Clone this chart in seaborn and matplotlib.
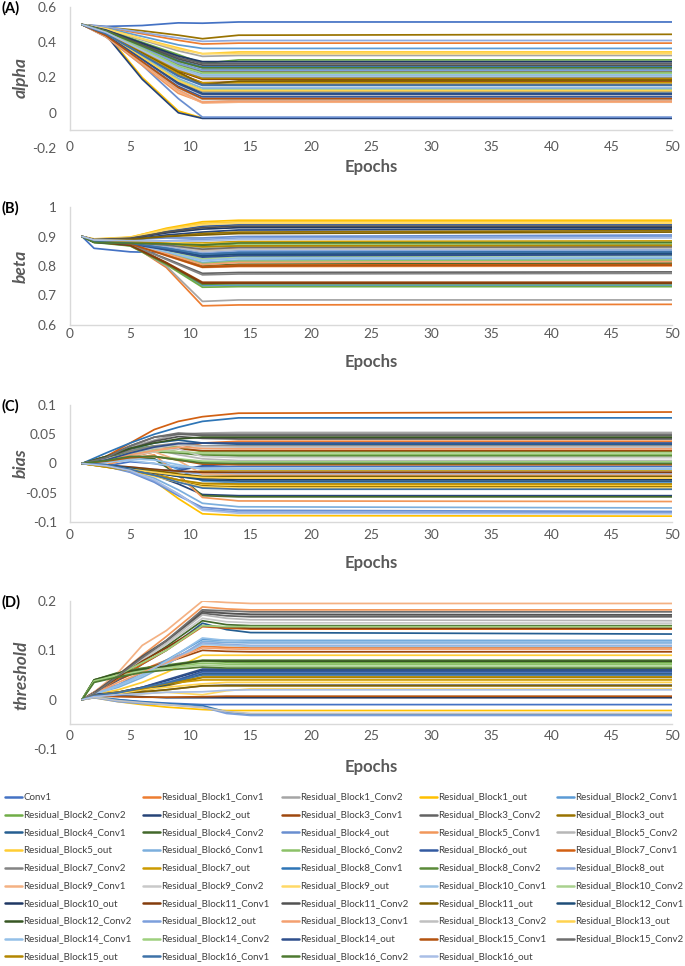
import matplotlib
matplotlib.use("Agg")
import matplotlib.pyplot as plt
import pandas as pd
import seaborn as sns
from matplotlib.lines import Line2D

# ---------------- data ----------------
SERIES = ["Conv1"] + [f"Residual_Block{b}_{p}" for b in range(1, 17)
                      for p in ("Conv1", "Conv2", "out")]

COLORS = ["#4472C4", "#ED7D31", "#A5A5A5", "#FFC000", "#5B9BD5", "#70AD47",
          "#264478", "#9E480E", "#636363", "#997300", "#255E91", "#43682B",
          "#698ED0", "#F1975A", "#B7B7B7", "#FFCD33", "#7CAFDD", "#8CC168",
          "#335AA1", "#D26012", "#848484", "#CC9A00", "#2E75B6", "#5A8A39",
          "#8FAADC", "#F4B183", "#C9C9C9", "#FFD966", "#9DC3E6", "#A9D18E",
          "#1F3864", "#843C0C", "#525252", "#7F6000", "#1F4E79", "#375623",
          "#7C9FDC", "#F4A070", "#C0C0C0", "#FFD34F", "#94C0E8", "#9ED07E",
          "#2F4F8C", "#B4530F", "#6F6F6F", "#B38600", "#3E72A8", "#4E7A31",
          "#A9BEE6"]

EPOCHS_ALPHA = [1, 3, 6, 9, 11, 14, 50]
ALPHA = [
    [0.5, 0.49, 0.495, 0.51, 0.508, 0.515, 0.515],
    [0.5, 0.484, 0.448, 0.411, 0.39, 0.395, 0.395],
    [0.5, 0.474, 0.413, 0.351, 0.32, 0.325, 0.325],
    [0.5, 0.45, 0.2, 0.01, -0.03, -0.03, -0.03],
    [0.5, 0.48, 0.433, 0.385, 0.365, 0.365, 0.365],
    [0.5, 0.47, 0.4, 0.33, 0.28, 0.3, 0.3],
    [0.5, 0.44, 0.19, 0.0, -0.032, -0.032, -0.032],
    [0.5, 0.451, 0.338, 0.224, 0.17, 0.175, 0.175],
    [0.5, 0.467, 0.39, 0.313, 0.28, 0.28, 0.28],
    [0.5, 0.485, 0.465, 0.44, 0.42, 0.44, 0.445],
    [0.5, 0.458, 0.36, 0.262, 0.22, 0.22, 0.22],
    [0.5, 0.462, 0.373, 0.283, 0.245, 0.245, 0.245],
    [0.5, 0.43, 0.27, 0.08, -0.025, -0.025, -0.025],
    [0.5, 0.43, 0.27, 0.11, 0.06, 0.07, 0.07],
    [0.5, 0.44, 0.3, 0.15, 0.095, 0.095, 0.095],
    [0.5, 0.477, 0.42, 0.368, 0.335, 0.345, 0.345],
    [0.5, 0.446, 0.32, 0.194, 0.14, 0.14, 0.14],
    [0.5, 0.456, 0.355, 0.253, 0.21, 0.21, 0.21],
    [0.5, 0.44, 0.295, 0.15, 0.09, 0.09, 0.09],
    [0.5, 0.46, 0.368, 0.275, 0.235, 0.235, 0.235],
    [0.5, 0.443, 0.31, 0.177, 0.12, 0.12, 0.12],
    [0.5, 0.45, 0.335, 0.22, 0.17, 0.17, 0.17],
    [0.5, 0.464, 0.38, 0.296, 0.26, 0.26, 0.26],
    [0.5, 0.46, 0.365, 0.27, 0.23, 0.23, 0.23],
    [0.5, 0.487, 0.455, 0.424, 0.405, 0.41, 0.41],
    [0.5, 0.434, 0.28, 0.12, 0.055, 0.06, 0.06],
    [0.5, 0.44, 0.3, 0.16, 0.1, 0.1, 0.1],
    [0.5, 0.475, 0.418, 0.36, 0.335, 0.335, 0.335],
    [0.5, 0.463, 0.375, 0.288, 0.25, 0.25, 0.25],
    [0.5, 0.445, 0.315, 0.186, 0.13, 0.13, 0.13],
    [0.5, 0.469, 0.395, 0.322, 0.29, 0.29, 0.29],
    [0.5, 0.454, 0.345, 0.237, 0.19, 0.19, 0.19],
    [0.5, 0.466, 0.385, 0.305, 0.27, 0.27, 0.27],
    [0.5, 0.453, 0.343, 0.232, 0.16, 0.18, 0.185],
    [0.5, 0.442, 0.305, 0.169, 0.11, 0.11, 0.11],
    [0.5, 0.455, 0.35, 0.245, 0.2, 0.2, 0.2],
    [0.5, 0.461, 0.37, 0.279, 0.24, 0.24, 0.24],
    [0.5, 0.435, 0.283, 0.13, 0.06, 0.065, 0.065],
    [0.5, 0.436, 0.288, 0.139, 0.075, 0.075, 0.075],
    [0.5, 0.444, 0.313, 0.181, 0.125, 0.125, 0.125],
    [0.5, 0.457, 0.358, 0.258, 0.215, 0.215, 0.215],
    [0.5, 0.459, 0.363, 0.266, 0.225, 0.225, 0.225],
    [0.5, 0.441, 0.303, 0.164, 0.105, 0.105, 0.105],
    [0.5, 0.437, 0.29, 0.143, 0.08, 0.08, 0.08],
    [0.5, 0.449, 0.33, 0.211, 0.16, 0.16, 0.16],
    [0.5, 0.454, 0.348, 0.241, 0.195, 0.195, 0.195],
    [0.5, 0.448, 0.328, 0.207, 0.155, 0.155, 0.155],
    [0.5, 0.463, 0.378, 0.292, 0.255, 0.255, 0.255],
    [0.5, 0.456, 0.353, 0.249, 0.205, 0.205, 0.205],
]

EPOCHS_BETA = [1, 2, 5, 8, 11, 14, 50]
BETA = [
    [0.9, 0.86, 0.848, 0.845, 0.835, 0.842, 0.84],
    [0.9, 0.888, 0.875, 0.795, 0.665, 0.668, 0.67],
    [0.9, 0.887, 0.873, 0.8, 0.68, 0.685, 0.685],
    [0.9, 0.89, 0.897, 0.928, 0.95, 0.955, 0.955],
    [0.9, 0.884, 0.873, 0.81, 0.733, 0.735, 0.735],
    [0.9, 0.88, 0.868, 0.805, 0.728, 0.73, 0.73],
    [0.9, 0.888, 0.89, 0.905, 0.915, 0.922, 0.925],
    [0.9, 0.883, 0.872, 0.812, 0.745, 0.745, 0.745],
    [0.9, 0.882, 0.872, 0.825, 0.775, 0.778, 0.78],
    [0.9, 0.888, 0.89, 0.9, 0.91, 0.915, 0.92],
    [0.9, 0.882, 0.876, 0.858, 0.835, 0.842, 0.845],
    [0.9, 0.88, 0.874, 0.84, 0.8, 0.806, 0.81],
    [0.9, 0.89, 0.89, 0.895, 0.895, 0.9, 0.905],
    [0.9, 0.885, 0.877, 0.835, 0.795, 0.798, 0.8],
    [0.9, 0.885, 0.88, 0.868, 0.852, 0.858, 0.86],
    [0.9, 0.892, 0.898, 0.925, 0.945, 0.95, 0.95],
    [0.9, 0.885, 0.878, 0.846, 0.812, 0.82, 0.825],
    [0.9, 0.884, 0.877, 0.843, 0.808, 0.816, 0.82],
    [0.9, 0.89, 0.895, 0.918, 0.935, 0.94, 0.94],
    [0.9, 0.884, 0.876, 0.838, 0.798, 0.803, 0.805],
    [0.9, 0.884, 0.874, 0.822, 0.77, 0.773, 0.775],
    [0.9, 0.886, 0.884, 0.88, 0.878, 0.883, 0.885],
    [0.9, 0.884, 0.878, 0.863, 0.842, 0.848, 0.85],
    [0.9, 0.881, 0.869, 0.808, 0.738, 0.74, 0.74],
    [0.9, 0.886, 0.881, 0.866, 0.845, 0.852, 0.855],
    [0.9, 0.885, 0.88, 0.872, 0.855, 0.862, 0.865],
    [0.9, 0.884, 0.882, 0.875, 0.862, 0.868, 0.87],
    [0.9, 0.891, 0.896, 0.922, 0.94, 0.945, 0.945],
    [0.9, 0.885, 0.879, 0.85, 0.82, 0.827, 0.83],
    [0.9, 0.884, 0.878, 0.852, 0.825, 0.832, 0.835],
    [0.9, 0.889, 0.893, 0.912, 0.925, 0.93, 0.93],
    [0.9, 0.882, 0.87, 0.81, 0.742, 0.742, 0.742],
    [0.9, 0.889, 0.894, 0.915, 0.93, 0.935, 0.935],
    [0.9, 0.888, 0.89, 0.9, 0.905, 0.91, 0.915],
    [0.9, 0.881, 0.875, 0.855, 0.833, 0.84, 0.842],
    [0.9, 0.882, 0.879, 0.876, 0.868, 0.873, 0.875],
    [0.9, 0.887, 0.885, 0.885, 0.89, 0.895, 0.9],
    [0.9, 0.886, 0.879, 0.842, 0.805, 0.812, 0.815],
    [0.9, 0.886, 0.882, 0.87, 0.85, 0.857, 0.86],
    [0.9, 0.887, 0.885, 0.88, 0.875, 0.878, 0.88],
    [0.9, 0.883, 0.877, 0.848, 0.818, 0.826, 0.83],
    [0.9, 0.884, 0.881, 0.874, 0.865, 0.872, 0.875],
    [0.9, 0.882, 0.875, 0.855, 0.83, 0.835, 0.838],
    [0.9, 0.883, 0.875, 0.836, 0.796, 0.8, 0.803],
    [0.9, 0.883, 0.879, 0.871, 0.857, 0.863, 0.865],
    [0.9, 0.886, 0.883, 0.877, 0.865, 0.868, 0.87],
    [0.9, 0.883, 0.877, 0.86, 0.84, 0.845, 0.848],
    [0.9, 0.88, 0.877, 0.875, 0.872, 0.878, 0.88],
    [0.9, 0.888, 0.886, 0.884, 0.885, 0.89, 0.895],
]

EPOCHS_BIAS = [1, 3, 5, 7, 9, 11, 14, 50]
BIAS = [
    [0, -0.004, 0.003, 0.0, -0.008, -0.006, -0.005, -0.005],
    [0, 0.006, 0.02, 0.028, 0.025, 0.035, 0.038, 0.038],
    [0, 0.01, 0.028, 0.04, 0.05, 0.052, 0.053, 0.053],
    [0, -0.006, -0.012, -0.03, -0.06, -0.086, -0.089, -0.09],
    [0, 0.005, 0.012, 0.008, -0.01, -0.03, -0.033, -0.033],
    [0, 0.012, 0.025, 0.03, 0.028, 0.02, 0.02, 0.02],
    [0, -0.003, -0.01, -0.02, -0.035, -0.053, -0.055, -0.055],
    [0, 0.008, 0.012, 0.02, 0.025, 0.022, 0.022, 0.022],
    [0, 0.012, 0.03, 0.045, 0.05, 0.048, 0.048, 0.048],
    [0, -0.005, -0.01, -0.018, -0.028, -0.038, -0.04, -0.04],
    [0, 0.01, 0.025, 0.035, 0.04, 0.035, 0.033, 0.033],
    [0, 0.004, 0.012, 0.008, -0.02, -0.055, -0.057, -0.057],
    [0, -0.005, -0.015, -0.032, -0.055, -0.075, -0.08, -0.082],
    [0, -0.002, 0.008, 0.015, -0.02, -0.058, -0.064, -0.065],
    [0, 0.005, 0.015, 0.025, 0.015, 0.008, 0.005, 0.005],
    [0, -0.004, -0.01, -0.02, -0.028, -0.035, -0.037, -0.037],
    [0, -0.003, -0.012, -0.025, -0.045, -0.068, -0.074, -0.076],
    [0, 0.01, 0.022, 0.025, 0.02, 0.016, 0.015, 0.015],
    [0, -0.004, -0.008, -0.012, -0.012, -0.004, 0.0, 0.0],
    [0, 0.012, 0.035, 0.058, 0.072, 0.08, 0.086, 0.088],
    [0, 0.008, 0.022, 0.03, 0.035, 0.03, 0.03, 0.03],
    [0, -0.006, -0.012, -0.015, -0.015, -0.013, -0.012, -0.012],
    [0, 0.018, 0.035, 0.05, 0.062, 0.072, 0.078, 0.078],
    [0, 0.01, 0.018, 0.02, 0.018, 0.014, 0.013, 0.013],
    [0, -0.003, -0.006, -0.01, -0.014, -0.018, -0.018, -0.018],
    [0, 0.004, 0.012, 0.02, 0.005, -0.018, -0.02, -0.02],
    [0, 0.006, 0.015, 0.02, 0.025, 0.012, 0.01, 0.01],
    [0, -0.005, -0.012, -0.022, -0.032, -0.04, -0.042, -0.042],
    [0, 0.003, 0.005, 0.0, -0.005, -0.008, -0.008, -0.008],
    [0, 0.008, 0.016, 0.022, 0.02, 0.018, 0.018, 0.018],
    [0, -0.004, -0.01, -0.016, -0.022, -0.026, -0.027, -0.027],
    [0, -0.003, -0.006, -0.01, -0.013, -0.015, -0.015, -0.015],
    [0, 0.01, 0.025, 0.038, 0.046, 0.043, 0.042, 0.042],
    [0, -0.004, -0.008, -0.012, -0.018, -0.022, -0.022, -0.022],
    [0, -0.002, -0.008, -0.015, -0.022, -0.028, -0.03, -0.03],
    [0, 0.012, 0.026, 0.035, 0.042, 0.045, 0.045, 0.045],
    [0, -0.004, -0.014, -0.03, -0.052, -0.078, -0.083, -0.084],
    [0, 0.006, 0.015, 0.022, 0.028, 0.026, 0.025, 0.025],
    [0, 0.007, 0.018, 0.026, 0.032, 0.029, 0.028, 0.028],
    [0, -0.005, -0.01, -0.015, -0.02, -0.024, -0.025, -0.025],
    [0, 0.002, 0.008, 0.006, -0.002, -0.01, -0.01, -0.01],
    [0, 0.005, 0.01, 0.012, 0.008, 0.004, 0.003, 0.003],
    [0, 0.006, 0.018, 0.028, 0.034, 0.035, 0.035, 0.035],
    [0, 0.004, 0.01, 0.012, 0.006, -0.001, -0.002, -0.002],
    [0, 0.01, 0.03, 0.045, 0.052, 0.05, 0.05, 0.05],
    [0, -0.006, -0.012, -0.02, -0.028, -0.034, -0.035, -0.035],
    [0, -0.002, -0.01, -0.02, -0.032, -0.042, -0.044, -0.044],
    [0, 0.005, 0.012, 0.012, 0.006, 0.001, 0.0, 0.0],
    [0, -0.004, -0.012, -0.028, -0.052, -0.08, -0.085, -0.086],
]

EPOCHS_THRESHOLD = [1, 2, 4, 6, 8, 11, 13, 15, 50]
THRESHOLD = [
    [0, 0.004, 0.0, -0.004, -0.007, -0.01, -0.01, -0.01, -0.01],
    [0, 0.012, 0.04, 0.06, 0.08, 0.108, 0.106, 0.105, 0.105],
    [0, 0.012, 0.045, 0.08, 0.115, 0.182, 0.175, 0.172, 0.17],
    [0, 0.004, -0.004, -0.01, -0.015, -0.02, -0.022, -0.022, -0.022],
    [0, 0.015, 0.03, 0.055, 0.08, 0.122, 0.12, 0.12, 0.12],
    [0, 0.04, 0.052, 0.062, 0.068, 0.078, 0.076, 0.075, 0.075],
    [0, 0.012, 0.015, 0.025, 0.038, 0.06, 0.06, 0.06, 0.06],
    [0, 0.015, 0.04, 0.062, 0.075, 0.1, 0.098, 0.097, 0.097],
    [0, 0.015, 0.048, 0.085, 0.118, 0.175, 0.17, 0.168, 0.168],
    [0, 0.01, 0.012, 0.018, 0.028, 0.045, 0.045, 0.045, 0.045],
    [0, 0.012, 0.04, 0.072, 0.1, 0.155, 0.142, 0.136, 0.133],
    [0, 0.014, 0.045, 0.078, 0.108, 0.16, 0.152, 0.15, 0.15],
    [0, 0.008, 0.012, 0.022, 0.035, 0.055, 0.055, 0.055, 0.055],
    [0, 0.015, 0.05, 0.09, 0.128, 0.188, 0.184, 0.182, 0.182],
    [0, 0.012, 0.045, 0.082, 0.115, 0.172, 0.165, 0.162, 0.16],
    [0, 0.01, 0.02, 0.035, 0.055, 0.09, 0.09, 0.09, 0.09],
    [0, 0.012, 0.025, 0.045, 0.07, 0.118, 0.116, 0.115, 0.115],
    [0, 0.038, 0.05, 0.06, 0.066, 0.074, 0.072, 0.072, 0.072],
    [0, 0.01, 0.012, 0.02, 0.032, 0.057, 0.057, 0.057, 0.057],
    [0, 0.012, 0.042, 0.072, 0.1, 0.148, 0.145, 0.143, 0.143],
    [0, 0.012, 0.01, 0.015, 0.02, 0.028, 0.03, 0.03, 0.03],
    [0, 0.008, 0.015, 0.025, 0.032, 0.04, 0.04, 0.04, 0.04],
    [0, 0.006, 0.0, -0.005, -0.008, -0.012, -0.025, -0.03, -0.03],
    [0, 0.04, 0.055, 0.064, 0.07, 0.08, 0.08, 0.08, 0.08],
    [0, 0.012, 0.03, 0.05, 0.075, 0.115, 0.112, 0.11, 0.11],
    [0, 0.015, 0.055, 0.11, 0.14, 0.2, 0.197, 0.195, 0.195],
    [0, 0.012, 0.045, 0.08, 0.112, 0.165, 0.158, 0.156, 0.155],
    [0, 0.005, 0.008, 0.012, 0.015, 0.01, 0.018, 0.022, 0.022],
    [0, 0.01, 0.028, 0.048, 0.072, 0.112, 0.11, 0.108, 0.108],
    [0, 0.036, 0.048, 0.058, 0.064, 0.07, 0.068, 0.068, 0.068],
    [0, 0.012, 0.008, 0.006, 0.004, 0.004, 0.004, 0.004, 0.004],
    [0, 0.013, 0.045, 0.078, 0.105, 0.15, 0.147, 0.145, 0.145],
    [0, 0.014, 0.05, 0.088, 0.12, 0.178, 0.175, 0.173, 0.172],
    [0, 0.01, 0.012, 0.016, 0.02, 0.028, 0.028, 0.028, 0.028],
    [0, 0.01, 0.012, 0.02, 0.03, 0.052, 0.052, 0.052, 0.052],
    [0, 0.04, 0.054, 0.062, 0.068, 0.079, 0.078, 0.078, 0.078],
    [0, 0.004, -0.004, -0.008, -0.01, -0.015, -0.028, -0.032, -0.032],
    [0, 0.012, 0.035, 0.055, 0.075, 0.105, 0.103, 0.102, 0.102],
    [0, 0.005, -0.002, -0.006, -0.01, -0.016, -0.024, -0.028, -0.028],
    [0, 0.006, 0.012, 0.02, 0.025, 0.032, 0.035, 0.035, 0.035],
    [0, 0.012, 0.028, 0.05, 0.078, 0.125, 0.12, 0.118, 0.118],
    [0, 0.038, 0.05, 0.075, 0.1, 0.15, 0.148, 0.148, 0.148],
    [0, 0.01, 0.015, 0.025, 0.04, 0.062, 0.062, 0.062, 0.062],
    [0, 0.008, 0.006, 0.005, 0.005, 0.006, 0.007, 0.007, 0.007],
    [0, 0.012, 0.048, 0.085, 0.12, 0.182, 0.18, 0.178, 0.178],
    [0, 0.008, 0.015, 0.022, 0.032, 0.046, 0.046, 0.046, 0.046],
    [0, 0.008, 0.014, 0.024, 0.034, 0.05, 0.05, 0.05, 0.05],
    [0, 0.035, 0.046, 0.055, 0.06, 0.066, 0.064, 0.064, 0.064],
    [0, 0.006, 0.01, 0.012, 0.015, 0.016, 0.019, 0.02, 0.02],
]

X_TICKS = [0, 5, 10, 15, 20, 25, 30, 35, 40, 45, 50]

# ---------------- style ----------------
sns.set_theme(style="white")
plt.rcParams["font.family"] = ["Lato", "DejaVu Sans"]
TICK_COLOR = "#595959"
SPINE_COLOR = "#D9D9D9"

W, H = 685, 966
fig = plt.figure(figsize=(W / 100, H / 100), dpi=100)


def add_axes_px(left, top, right, bottom):
    return fig.add_axes([left / W, 1 - bottom / H, (right - left) / W, (bottom - top) / H])


panels = [
    dict(tag="(A)", ylabel="alpha", data=ALPHA, epochs=EPOCHS_ALPHA,
         ylim=(-0.2, 0.6), yticks=[-0.2, 0, 0.2, 0.4, 0.6],
         ylabels=["-0.2", "0", "0.2", "0.4", "0.6"], spine=-0.1,
         top=7, bottom=148, xlab_y=167, xpad=7.5, ticks=False),
    dict(tag="(B)", ylabel="beta", data=BETA, epochs=EPOCHS_BETA,
         ylim=(0.6, 1.0), yticks=[0.6, 0.7, 0.8, 0.9, 1.0],
         ylabels=["0.6", "0.7", "0.8", "0.9", "1"], spine=0.6,
         top=207, bottom=325, xlab_y=362, xpad=2.5, ticks=False),
    dict(tag="(C)", ylabel="bias", data=BIAS, epochs=EPOCHS_BIAS,
         ylim=(-0.1, 0.1), yticks=[-0.1, -0.05, 0, 0.05, 0.1],
         ylabels=["-0.1", "-0.05", "0", "0.05", "0.1"], spine=-0.1,
         top=405, bottom=522, xlab_y=563, xpad=5, ticks=False),
    dict(tag="(D)", ylabel="threshold", data=THRESHOLD, epochs=EPOCHS_THRESHOLD,
         ylim=(-0.1, 0.2), yticks=[-0.1, 0, 0.1, 0.2],
         ylabels=["-0.1", "0", "0.1", "0.2"], spine=-0.05,
         top=601, bottom=749, xlab_y=767, xpad=1.0, ticks=True),
]

palette = dict(zip(SERIES, COLORS))
AX_LEFT, AX_RIGHT = 70, 672

for p in panels:
    rows = []
    for name, vals in zip(SERIES, p["data"]):
        for e, v in zip(p["epochs"], vals):
            rows.append((name, e, v))
    df = pd.DataFrame(rows, columns=["series", "Epochs", "value"])
    ax = add_axes_px(AX_LEFT, p["top"], AX_RIGHT, p["bottom"])
    sns.lineplot(data=df, x="Epochs", y="value", hue="series", hue_order=SERIES,
                 palette=palette, estimator=None, errorbar=None, legend=False,
                 linewidth=1.25, ax=ax)
    ax.set_xlim(0, 50)
    ax.set_ylim(*p["ylim"])
    ax.set_xticks(X_TICKS)
    ax.set_xticklabels([str(t) for t in X_TICKS])
    ax.set_yticks(p["yticks"])
    ax.set_yticklabels(p["ylabels"])
    for s in ("top", "right"):
        ax.spines[s].set_visible(False)
    for s in ("left", "bottom"):
        ax.spines[s].set_color(SPINE_COLOR)
        ax.spines[s].set_linewidth(1.0)
    ax.spines["bottom"].set_position(("data", p["spine"]))
    ax.spines["left"].set_bounds(p["spine"], p["ylim"][1])
    tl = 3 if p["ticks"] else 0
    ax.tick_params(axis="x", colors=TICK_COLOR, labelsize=9.8, length=tl,
                   width=1, color=SPINE_COLOR, pad=p["xpad"], direction="out")
    ax.tick_params(axis="y", colors=TICK_COLOR, labelsize=9.8, length=tl,
                   width=1, color=SPINE_COLOR, pad=9.5 - tl, direction="out")
    for t in ax.get_xticklabels() + ax.get_yticklabels():
        t.set_color(TICK_COLOR)
    ax.set_xlabel("Epochs", fontsize=12, fontweight="bold", color=TICK_COLOR)
    ax.xaxis.label.set_va("center")
    hgt = p["bottom"] - p["top"]
    ax.xaxis.set_label_coords(0.5, -(p["xlab_y"] - p["bottom"]) / hgt)
    ax.set_ylabel(p["ylabel"], fontsize=12.5, fontweight="bold", fontstyle="italic",
                  color=TICK_COLOR)
    ax.yaxis.label.set_va("center")
    ax.yaxis.set_label_coords((21 - AX_LEFT) / (AX_RIGHT - AX_LEFT), 0.5)
    ax.grid(False)
    ax.set_facecolor("none")
    fig.text(2 / W, 1 - (p["top"] + 1) / H, p["tag"], fontsize=10.5,
             fontweight="bold", color="black", ha="left", va="center")

# ---------------- legend (row-major, 5 columns) ----------------
COL_X = [5, 143, 282, 420, 557]
ROW_Y0, ROW_DY = 797, 17.7
for i, (name, col) in enumerate(zip(SERIES, COLORS)):
    r, c = divmod(i, 5)
    x0 = COL_X[c]
    y = ROW_Y0 + r * ROW_DY
    fig.add_artist(Line2D([x0 / W, (x0 + 17) / W], [1 - y / H, 1 - y / H],
                          color=col, linewidth=1.8, transform=fig.transFigure))
    fig.text((x0 + 18) / W, 1 - y / H, name, fontsize=7.0, color="#404040",
             ha="left", va="center")

fig.savefig("out.png", dpi=100)
